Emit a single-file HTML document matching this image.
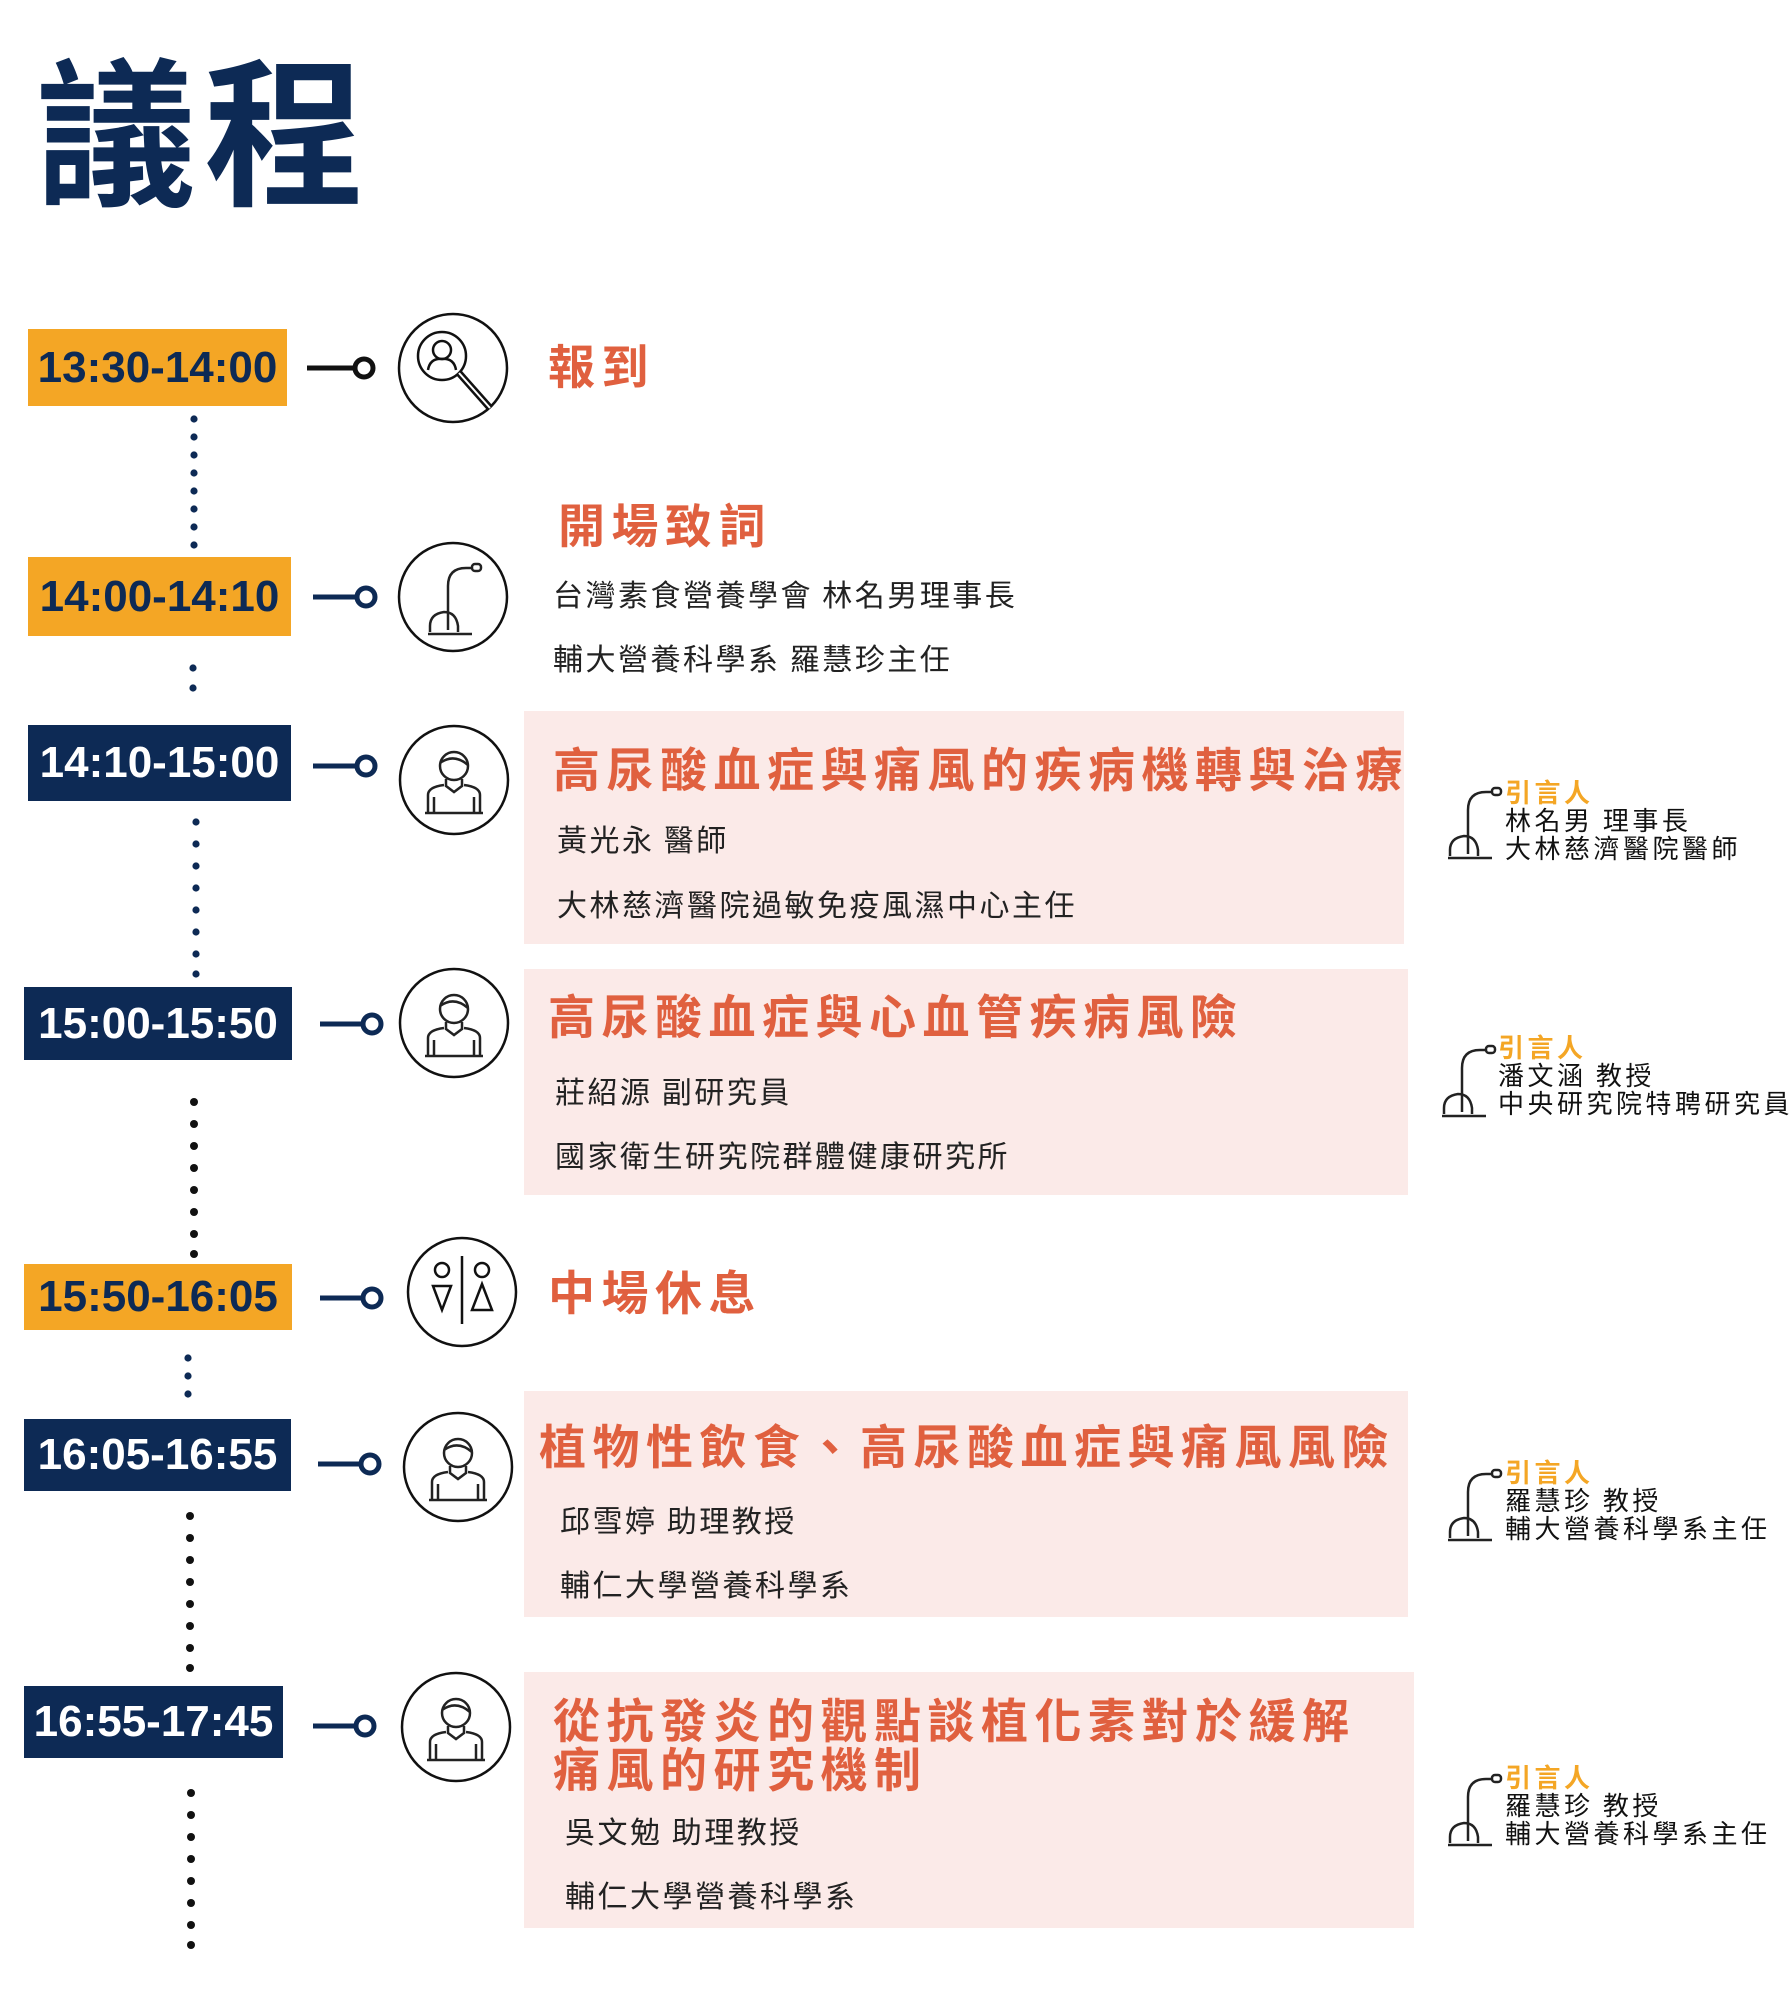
<!DOCTYPE html>
<html><head><meta charset="utf-8">
<style>
body{margin:0;width:1790px;height:2000px;background:#fff;position:relative;overflow:hidden;font-family:"Liberation Sans","Noto Sans CJK TC",sans-serif;}
.a{position:absolute;white-space:nowrap}
.t{position:absolute;font-weight:bold;font-size:44px;display:flex;align-items:center;justify-content:center;letter-spacing:0px}
.o{background:#f4a625;color:#0d2a55}
.n{background:#0d2a55;color:#fff}
.pk{position:absolute;background:#fbeae8}
.h{position:absolute;white-space:nowrap;color:#e0603f;font-weight:bold;font-size:47px;line-height:1;letter-spacing:6.5px;font-family:"Noto Sans CJK TC",sans-serif}
.s{position:absolute;white-space:nowrap;color:#222;font-size:30px;line-height:1;letter-spacing:2.5px;font-family:"Noto Sans CJK TC",sans-serif}
.m{position:absolute;white-space:nowrap;font-size:26px;line-height:28px;color:#111;letter-spacing:3.5px;font-family:"Noto Sans CJK TC",sans-serif}
.m b{color:#f4a625;font-weight:bold}
</style></head><body>
<div class="a" style="left:36px;top:44px;font-size:160px;font-weight:bold;color:#0d2a55;line-height:1;font-family:'Noto Sans CJK TC',sans-serif;letter-spacing:8px">議程</div>

<div class="t o" style="left:28px;top:329px;width:259px;height:77px">13:30-14:00</div>
<div class="t o" style="left:28px;top:557px;width:263px;height:79px">14:00-14:10</div>
<div class="t n" style="left:28px;top:725px;width:263px;height:76px">14:10-15:00</div>
<div class="t n" style="left:24px;top:987px;width:268px;height:73px">15:00-15:50</div>
<div class="t o" style="left:24px;top:1264px;width:268px;height:66px">15:50-16:05</div>
<div class="t n" style="left:24px;top:1419px;width:267px;height:72px">16:05-16:55</div>
<div class="t n" style="left:24px;top:1686px;width:259px;height:72px">16:55-17:45</div>

<div class="pk" style="left:524px;top:711px;width:880px;height:233px"></div>
<div class="pk" style="left:524px;top:969px;width:884px;height:226px"></div>
<div class="pk" style="left:524px;top:1391px;width:884px;height:226px"></div>
<div class="pk" style="left:524px;top:1672px;width:890px;height:256px"></div>

<svg class="a" style="left:0;top:0" width="1790" height="2000">
<defs>
<g id="person" fill="none" stroke="#222" stroke-width="2.5">
<circle cx="0" cy="-17" r="14"/><path d="M-14,-20 Q0,-30 14,-18"/>
<path d="M-8,-4 L-8,3 L0,9 L8,3 L8,-4"/>
<path d="M-26,30 L-26,12 Q-26,4 -10,2 M26,30 L26,12 Q26,4 10,2 M-29,30 H29 M-20,14 V30 M20,14 V30"/>
</g>
<g id="mic" fill="none" stroke="#222" stroke-width="2.5">
<path d="M-10,30 V-14 Q-10,-32 8,-32 H14"/><rect x="14" y="-36" width="9" height="7" rx="3"/>
<path d="M-28,32 V26 Q-28,14 -14,12 Q-2,12 0,26 V32"/><path d="M-30,34 H14"/>
</g>
</defs>
<g stroke-width="5" fill="#fff">
<line x1="307" y1="368" x2="356" y2="368" stroke="#111"/><circle cx="364" cy="368" r="9" stroke="#111"/>
<line x1="313" y1="597" x2="358" y2="597" stroke="#0d2a55"/><circle cx="366" cy="597" r="9" stroke="#0d2a55"/>
<line x1="313" y1="766" x2="358" y2="766" stroke="#0d2a55"/><circle cx="366" cy="766" r="9" stroke="#0d2a55"/>
<line x1="320" y1="1024" x2="364" y2="1024" stroke="#0d2a55"/><circle cx="372" cy="1024" r="9" stroke="#0d2a55"/>
<line x1="320" y1="1298" x2="364" y2="1298" stroke="#0d2a55"/><circle cx="372" cy="1298" r="9" stroke="#0d2a55"/>
<line x1="318" y1="1464" x2="362" y2="1464" stroke="#0d2a55"/><circle cx="370" cy="1464" r="9" stroke="#0d2a55"/>
<line x1="313" y1="1726" x2="357" y2="1726" stroke="#0d2a55"/><circle cx="365" cy="1726" r="9" stroke="#0d2a55"/>
</g>
<g fill="none" stroke="#111" stroke-width="2.5">
<circle cx="453" cy="368" r="54"/><circle cx="453" cy="597" r="54"/><circle cx="454" cy="780" r="54"/>
<circle cx="454" cy="1023" r="54"/><circle cx="462" cy="1292" r="54"/><circle cx="458" cy="1467" r="54"/><circle cx="456" cy="1727" r="54"/>
<circle cx="442" cy="356" r="24"/><circle cx="442" cy="350" r="9"/><path d="M428,370 Q430,358 442,359 Q454,358 456,370"/>
<line x1="459" y1="373" x2="490" y2="408" stroke-width="7"/><line x1="459" y1="373" x2="490" y2="408" stroke="#fff" stroke-width="2"/>
<circle cx="442" cy="1270" r="7"/><path d="M433,1286 H451 L442,1310 Z"/><line x1="462" y1="1256" x2="462" y2="1324"/>
<circle cx="482" cy="1270" r="7"/><path d="M482,1284 L492,1310 H472 Z"/>
</g>
<use href="#mic" x="458" y="600"/>
<use href="#person" x="454" y="783"/><use href="#person" x="454" y="1026"/>
<use href="#person" x="458" y="1470"/><use href="#person" x="456" y="1730"/>
<use href="#mic" x="1478" y="824"/>
<use href="#mic" x="1472" y="1082"/><use href="#mic" x="1478" y="1506"/><use href="#mic" x="1478" y="1811"/>
<g fill="#0d2a55">
<circle cx="194" cy="419" r="3.6"/><circle cx="194" cy="437" r="3.6"/><circle cx="194" cy="455" r="3.6"/><circle cx="194" cy="473" r="3.6"/><circle cx="194" cy="491" r="3.6"/><circle cx="194" cy="509" r="3.6"/><circle cx="194" cy="527" r="3.6"/><circle cx="194" cy="545" r="3.6"/>
<circle cx="193" cy="668" r="3.6"/><circle cx="193" cy="688" r="3.6"/>
<circle cx="196" cy="822" r="3.6"/><circle cx="196" cy="844" r="3.6"/><circle cx="196" cy="866" r="3.6"/><circle cx="196" cy="888" r="3.6"/><circle cx="196" cy="910" r="3.6"/><circle cx="196" cy="932" r="3.6"/><circle cx="196" cy="954" r="3.6"/><circle cx="196" cy="974" r="3.6"/>
</g>
<g fill="#111">
<circle cx="194" cy="1102" r="4"/><circle cx="194" cy="1124" r="4"/><circle cx="194" cy="1146" r="4"/><circle cx="194" cy="1168" r="4"/><circle cx="194" cy="1190" r="4"/><circle cx="194" cy="1212" r="4"/><circle cx="194" cy="1234" r="4"/><circle cx="194" cy="1254" r="4"/>
</g>
<g fill="#0d2a55"><circle cx="188" cy="1358" r="3.6"/><circle cx="188" cy="1376" r="3.6"/><circle cx="188" cy="1394" r="3.6"/></g>
<g fill="#111">
<circle cx="190" cy="1516" r="4"/><circle cx="190" cy="1538" r="4"/><circle cx="190" cy="1560" r="4"/><circle cx="190" cy="1582" r="4"/><circle cx="190" cy="1604" r="4"/><circle cx="190" cy="1626" r="4"/><circle cx="190" cy="1648" r="4"/><circle cx="190" cy="1668" r="4"/>
<circle cx="191" cy="1793" r="4"/><circle cx="191" cy="1815" r="4"/><circle cx="191" cy="1837" r="4"/><circle cx="191" cy="1859" r="4"/><circle cx="191" cy="1881" r="4"/><circle cx="191" cy="1903" r="4"/><circle cx="191" cy="1925" r="4"/><circle cx="191" cy="1945" r="4"/>
</g>
</svg>

<div class="h" style="left:548px;top:340px">報到</div>
<div class="h" style="left:558px;top:499px">開場致詞</div>
<div class="s" style="left:553px;top:578px">台灣素食營養學會 林名男理事長</div>
<div class="s" style="left:553px;top:642px">輔大營養科學系 羅慧珍主任</div>

<div class="h" style="left:553px;top:743px">高尿酸血症與痛風的疾病機轉與治療</div>
<div class="s" style="left:557px;top:823px">黃光永 醫師</div>
<div class="s" style="left:557px;top:888px">大林慈濟醫院過敏免疫風濕中心主任</div>

<div class="h" style="left:548px;top:990px">高尿酸血症與心血管疾病風險</div>
<div class="s" style="left:555px;top:1075px">莊紹源 副研究員</div>
<div class="s" style="left:555px;top:1139px">國家衛生研究院群體健康研究所</div>

<div class="h" style="left:548px;top:1266px">中場休息</div>

<div class="h" style="left:539px;top:1420px">植物性飲食、高尿酸血症與痛風風險</div>
<div class="s" style="left:560px;top:1504px">邱雪婷 助理教授</div>
<div class="s" style="left:560px;top:1568px">輔仁大學營養科學系</div>

<div class="h" style="left:553px;top:1693px;line-height:49px">從抗發炎的觀點談植化素對於緩解<br>痛風的研究機制</div>
<div class="s" style="left:565px;top:1815px">吳文勉 助理教授</div>
<div class="s" style="left:565px;top:1879px">輔仁大學營養科學系</div>

<div class="m" style="left:1505px;top:778px"><b>引言人</b><br>林名男 理事長<br>大林慈濟醫院醫師</div>
<div class="m" style="left:1498px;top:1033px"><b>引言人</b><br>潘文涵 教授<br>中央研究院特聘研究員</div>
<div class="m" style="left:1505px;top:1458px"><b>引言人</b><br>羅慧珍 教授<br>輔大營養科學系主任</div>
<div class="m" style="left:1505px;top:1763px"><b>引言人</b><br>羅慧珍 教授<br>輔大營養科學系主任</div>
</body></html>
